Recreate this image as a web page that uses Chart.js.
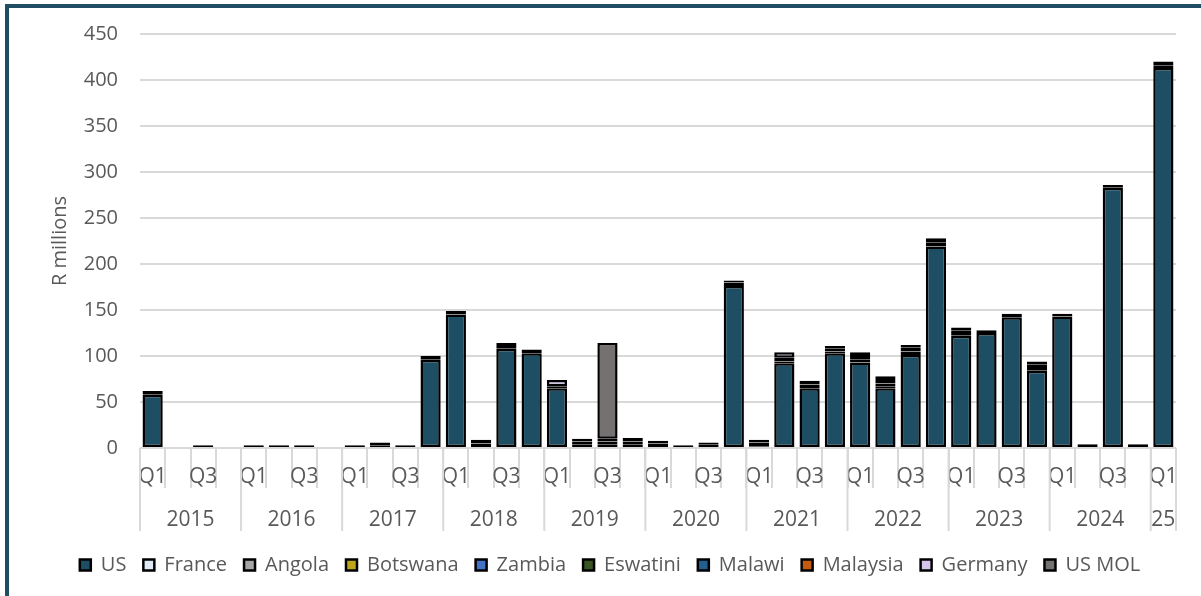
<!DOCTYPE html>
<html>
<head>
<meta charset="utf-8">
<script src="https://cdn.jsdelivr.net/npm/chart.js@4.4.1/dist/chart.umd.min.js"></script>
<style>
  html, body { margin: 0; padding: 0; background: #ffffff; }
  #wrap { position: relative; width: 1201px; height: 596px; overflow: hidden; background: #ffffff; }
  #frame { position: absolute; left: 5px; top: 4px; width: 1220px; height: 620px; border: 4px solid #1f4e64; box-sizing: border-box; pointer-events: none; }
  canvas { position: absolute; left: 0; top: 0; }
</style>
</head>
<body>
<div id="wrap">
  <canvas id="c" width="1201" height="596"></canvas>
  <div id="frame"></div>
</div>
<script>
// Categories
const quarters = [
  'Q1','Q2','Q3','Q4', 'Q1','Q2','Q3','Q4', 'Q1','Q2','Q3','Q4', 'Q1','Q2','Q3','Q4',
  'Q1','Q2','Q3','Q4', 'Q1','Q2','Q3','Q4', 'Q1','Q2','Q3','Q4', 'Q1','Q2','Q3','Q4',
  'Q1','Q2','Q3','Q4', 'Q1','Q2','Q3','Q4', 'Q1'
];
const years = [
  '2015','2015','2015','2015', '2016','2016','2016','2016', '2017','2017','2017','2017', '2018','2018','2018','2018',
  '2019','2019','2019','2019', '2020','2020','2020','2020', '2021','2021','2021','2021', '2022','2022','2022','2022',
  '2023','2023','2023','2023', '2024','2024','2024','2024', '25'
];
const yTicks = [0, 50, 100, 150, 200, 250, 300, 350, 400, 450];

// Series (R millions), per quarter 2015 Q1 .. 2025 Q1
const US       = [58,0,0,0, 0,0,0,0, 0,3,0,96, 145,5,108,103, 65,4,4,4, 1,0,1,176, 2,92,65,103, 93,65,101,219, 122,125,142,84, 143,0,283,0, 413];
const France   = [0,0,0,0, 0,0,0,0, 0,0,0,0, 0,0,0,0, 0,0,0,0, 0,0,0,0, 0,0,0,0, 0,0,0,0, 0,0,0,2, 0,0,0,0, 0];
const Angola   = [0,1,0,0, 0,0,0,0, 0,0,0,0, 0,0,0,0, 0,0,0,0, 0,0,0,0, 0,2,0,2, 0,2,0,0, 0,0,0,0, 0,0,0,0, 0];
const Botswana = [0,0,0,0, 0,0,0,0, 0,0,0,0, 0,0,0,0, 0,0,0,0, 0,0,0,0, 0,0,0,0, 0,0,0,0, 0,0,0,0, 0,0,0,0, 0];
const Zambia   = [0,0,0,0, 0,0,0,0, 0,0,0,0, 0,0,0,0, 0,0,0,0, 0,0,0,0, 0,0,4,3, 3,3,4,0, 3,0,0,3, 0,0,0,0, 3];
const Eswatini = [0,0,0,0, 0,0,0,0, 0,0,0,0, 0,0,0,0, 0,0,0,0, 0,0,0,0, 0,0,0,0, 0,0,0,0, 0,0,0,0, 0,0,0,0, 0];
const Malawi   = [4,0,3,1, 3,3,3,1, 3,3,3,4, 4,4,4,4, 2,3,3,3, 4,3,3,4, 4,4,4,3, 4,4,4,4, 3,3,4,2, 3,4,3,4, 4];
const Malaysia = [0,0,0,0, 0,0,0,0, 0,0,0,0, 0,0,0,0, 0,0,0,0, 0,0,0,0, 0,0,0,0, 0,0,0,0, 0,0,0,0, 0,0,0,0, 0];
const Germany  = [0,0,0,0, 0,0,0,0, 0,0,0,0, 0,0,2,0, 7,3,3,4, 3,0,2,2, 3,6,0,0, 4,4,3,5, 3,0,0,3, 0,0,0,0, 0];
const USMOL    = [0,0,0,0, 0,0,0,0, 0,0,0,0, 0,0,0,0, 0,0,104,0, 0,0,0,0, 0,0,0,0, 0,0,0,0, 0,0,0,0, 0,0,0,0, 0];

const seriesNames = ['US','France','Angola','Botswana','Zambia','Eswatini','Malawi','Malaysia','Germany','US MOL'];
const seriesData = [US, France, Angola, Botswana, Zambia, Eswatini, Malawi, Malaysia, Germany, USMOL];
const seriesColors = ['#1d4e63','#deebf7','#a5a5a5','#bfa51a','#4472c4','#375623','#255e91','#c55a11','#d6c4ee','#767171'];

const FONT = "'Open Sans', 'DejaVu Sans', sans-serif";
const TEXT = '#595959';
const GRID = '#d9d9d9';

const yearGroups = {
  id: 'yearGroups',
  afterDraw(chart) {
    const xs = chart.scales.x;
    const ctx = chart.ctx;
    const half = (xs.getPixelForValue(1) - xs.getPixelForValue(0)) / 2;
    const top = xs.top;
    const groups = [];
    years.forEach((y, i) => {
      if (!groups.length || groups[groups.length - 1].label !== y) groups.push({ label: y, start: i, end: i });
      else groups[groups.length - 1].end = i;
    });
    ctx.save();
    ctx.strokeStyle = GRID;
    ctx.lineWidth = 2;
    ctx.fillStyle = TEXT;
    ctx.font = "21px " + FONT;
    ctx.textAlign = 'center';
    ctx.textBaseline = 'middle';
    groups.forEach((g, k) => {
      const x0 = xs.getPixelForValue(g.start) - half;
      const x1 = xs.getPixelForValue(g.end) + half;
      ctx.beginPath();
      ctx.moveTo(x0, top); ctx.lineTo(x0, top + 83);
      if (k === groups.length - 1) { ctx.moveTo(x1, top); ctx.lineTo(x1, top + 83); }
      ctx.stroke();
      ctx.fillText(g.label, (x0 + x1) / 2, top + 72);
    });
    ctx.restore();
  }
};

new Chart(document.getElementById('c'), {
  type: 'bar',
  data: {
    labels: quarters,
    datasets: seriesNames.map((name, k) => ({
      label: name,
      data: seriesData[k].map(v => (v === 0 ? null : v)),
      backgroundColor: seriesColors[k],
      borderColor: '#000000',
      borderWidth: 2.5,
      borderSkipped: false,
      categoryPercentage: 1.0,
      barPercentage: 0.8
    }))
  },
  options: {
    responsive: false,
    animation: false,
    devicePixelRatio: 1,
    layout: { padding: { left: 44, right: 25, top: 20, bottom: 11 } },
    plugins: {
      legend: {
        position: 'bottom',
        labels: {
          font: { family: FONT, size: 20 },
          color: TEXT,
          boxWidth: 11,
          boxHeight: 11,
          padding: 17
        }
      },
      tooltip: { enabled: false }
    },
    scales: {
      x: {
        stacked: true,
        border: { display: false },
        grid: { display: true, drawOnChartArea: false, drawTicks: true, tickLength: 40, color: GRID, lineWidth: 2, offset: true },
        ticks: {
          autoSkip: false,
          maxRotation: 0,
          padding: -24,
          color: TEXT,
          font: { family: FONT, size: 21 },
          callback: (v, i) => (i % 2 === 0 ? quarters[i] : '')
        },
        afterFit: (s) => { s.height = 90; }
      },
      y: {
        stacked: true,
        min: yTicks[0],
        max: yTicks[yTicks.length - 1],
        border: { display: false },
        grid: { color: GRID, lineWidth: 2, drawTicks: false },
        afterBuildTicks: (s) => { s.ticks = yTicks.map(v => ({ value: v })); },
        afterFit: (s) => { s.width = 96; },
        ticks: { padding: 22, color: TEXT, font: { family: FONT, size: 20 } },
        title: { display: true, text: 'R millions', color: TEXT, font: { family: FONT, size: 20 }, padding: { top: 4, bottom: 4 } }
      }
    }
  },
  plugins: [yearGroups]
});
</script>
</body>
</html>
